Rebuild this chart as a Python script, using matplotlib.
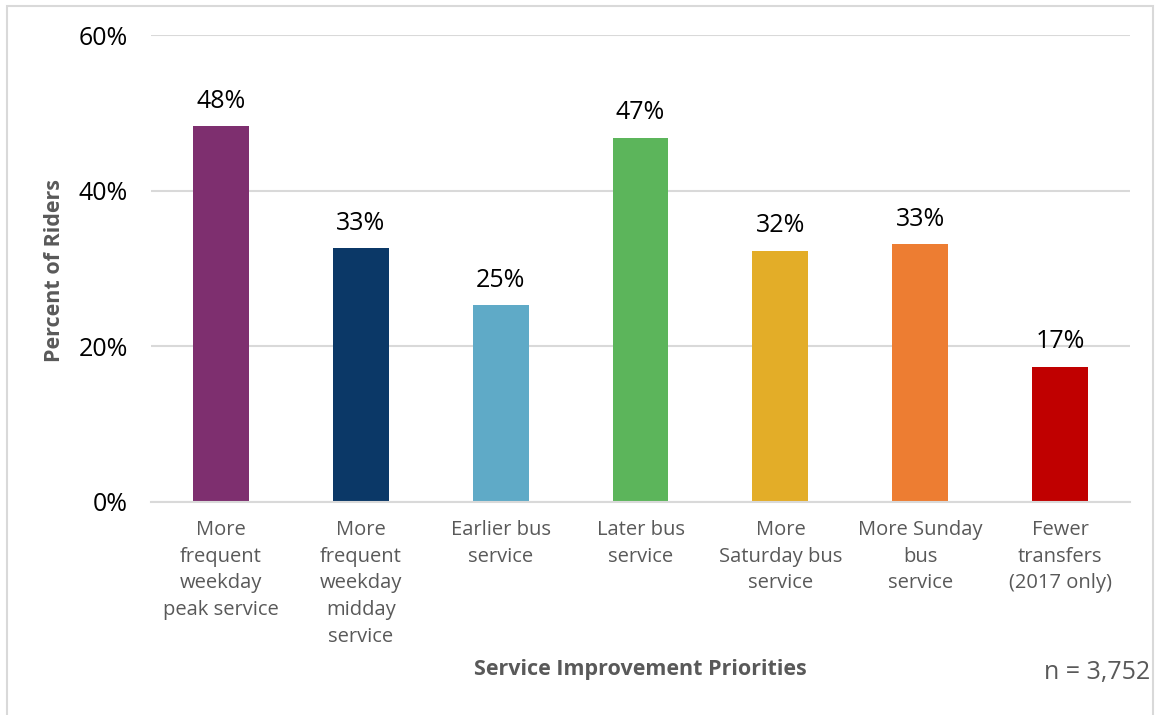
import matplotlib.pyplot as plt
from matplotlib.patches import Rectangle

# Rider survey: which service improvements matter most
categories = [
    "More\nfrequent\nweekday\npeak service",
    "More\nfrequent\nweekday\nmidday\nservice",
    "Earlier bus\nservice",
    "Later bus\nservice",
    "More\nSaturday bus\nservice",
    "More Sunday\nbus\nservice",
    "Fewer\ntransfers\n(2017 only)",
]
percent = [48.3, 32.6, 25.3, 46.8, 32.3, 33.1, 17.4]
colors = ["#7E2F6F", "#0B3867", "#5FAAC7", "#5CB55B", "#E3AD28", "#ED7D32", "#C00000"]
yticks = [0, 20, 40, 60]

grey = "#595959"
grid = "#D9D9D9"

fig = plt.figure(figsize=(11.59, 7.15), dpi=100)
ax = fig.add_axes([0.1303, 0.298, 0.8447, 0.653])

x = range(len(categories))
bars = ax.bar(x, percent, width=0.4, color=colors, zorder=3)

for b, v in zip(bars, percent):
    ax.text(b.get_x() + b.get_width() / 2, v + 1.6, f"{v:.0f}%",
            ha="center", va="bottom", fontsize=18, family="Open Sans",
            color="black")

ax.set_ylim(0, 60)
ax.set_xlim(-0.5, len(categories) - 0.5)
ax.set_yticks(yticks)
ax.set_yticklabels([f"{t}%" for t in yticks], fontsize=18, family="Open Sans", color="black")
ax.set_xticks(list(x))
ax.set_xticklabels(categories, fontsize=14.5, family="Open Sans", color=grey, linespacing=1.45,
                   va="top")
ax.tick_params(axis="both", length=0)
ax.tick_params(axis="y", pad=16.5)
ax.tick_params(axis="x", pad=13)

ax.grid(axis="y", color=grid, linewidth=1.5, zorder=0)
for s in ["top", "right", "left"]:
    ax.spines[s].set_visible(False)
ax.spines["bottom"].set_color(grid)
ax.spines["bottom"].set_linewidth(1.5)
ax.spines["bottom"].set_zorder(4)

fig.text(55 / 1159, 1 - 270 / 715, "Percent of Riders", rotation=90, ha="center", va="center",
         fontsize=15.5, fontweight="bold", family="Open Sans", color=grey)
fig.text(640 / 1159, 1 - 670 / 715, "Service Improvement Priorities", ha="center", va="center",
         fontsize=15.5, fontweight="bold", family="Open Sans", color=grey)
fig.text(1150 / 1159, 1 - 672 / 715, "n = 3,752", ha="right", va="center",
         fontsize=18, family="Open Sans", color=grey)

# thin frame around the chart area
fig.patches.append(Rectangle((7 / 1159, -0.01), 1146 / 1159, 1 - 6 / 715 + 0.01,
                             transform=fig.transFigure, fill=False,
                             edgecolor=grid, linewidth=1.5))

fig.savefig("out.png", dpi=100)
